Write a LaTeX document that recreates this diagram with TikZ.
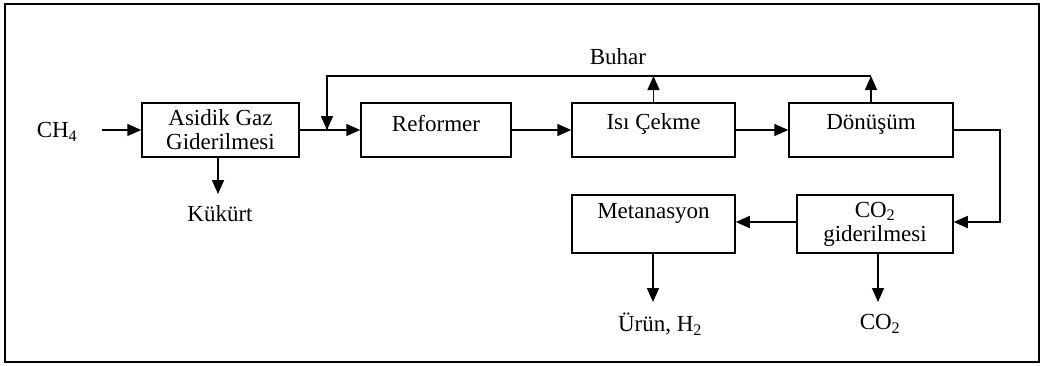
\documentclass[tikz,border=0pt]{standalone}
\usepackage{fontspec}
\setmainfont{Liberation Serif}
\usetikzlibrary{arrows.meta}
\begin{document}
\begin{tikzpicture}[x=1pt,y=-1pt,
  box/.style={draw,line width=1.5pt,inner sep=0pt},
  lbl/.style={font=\fontsize{23}{24}\selectfont,inner sep=0pt},
  flow/.style={line width=1.5pt,-{Triangle[length=14pt,width=12pt]}},
  line/.style={line width=1.5pt}]
\useasboundingbox (0,0) rectangle (1044,365);
\draw[line width=2.2pt] (5,4) rectangle (1039,362);
% boxes
\node[box,minimum width=157pt,minimum height=54pt] (agg) at (220.5,130) {};
\node[lbl,align=center] at (220.5,130) {Asidik Gaz\\Giderilmesi};
\node[box,minimum width=150pt,minimum height=54pt] (ref) at (436,130) {};
\node[lbl] at (436,124) {Reformer};
\node[box,minimum width=163pt,minimum height=54pt] (isi) at (653.5,130) {};
\node[lbl] at (653.5,124) {Isı Çekme};
\node[box,minimum width=164pt,minimum height=54pt] (don) at (871,130) {};
\node[lbl] at (871,124) {Dönüşüm};
\node[box,minimum width=163pt,minimum height=58pt] (met) at (653.5,224) {};
\node[lbl] at (653.5,213) {Metanasyon};
\node[box,minimum width=156pt,minimum height=58pt] (cog) at (875,224) {};
\node[lbl,align=center] at (875,224) {CO\textsubscript{2}\\giderilmesi};
% labels
\node[lbl] (ch4) at (57,132) {CH\textsubscript{4}};
\node[lbl] (buhar) at (618,57) {Buhar};
\node[lbl] (kuk) at (220,214) {Kükürt};
\node[lbl] (urun) at (660,324) {Ürün, H\textsubscript{2}};
\node[lbl] (co2) at (880,324) {CO\textsubscript{2}};
% coordinates
\coordinate (ch4s) at (102,130);
\coordinate (fb) at (327,130);
\coordinate (fbt) at (327,76);
\coordinate (tr) at (871,76);
\coordinate (isit) at (653.5,76);
\coordinate (rc) at (1000,130);
\coordinate (rb) at (1000,222);
\coordinate (kukt) at (218,194);
\coordinate (urunt) at (653,302);
\coordinate (co2t) at (878,302);
% connectors
\draw[flow] (ch4s) -- (agg.west);
\draw[flow] (agg.east) -- (ref.west);
\draw[line] (fb) -- (fbt) -- (tr);
\draw[flow] (fbt) -- (fb);
\draw[flow] (ref.east) -- (isi.west);
\draw[flow] (isi.east) -- (don.west);
\draw[flow] (isi.north) -- (isit);
\draw[flow] (don.north) -- (tr);
\draw[flow] (agg.south -| kukt) -- (kukt);
\draw[flow] (don.east) -- (rc) -- (rb) -- (cog.east |- rb);
\draw[flow] (cog.west |- rb) -- (met.east |- rb);
\draw[flow] (met.south -| urunt) -- (urunt);
\draw[flow] (cog.south -| co2t) -- (co2t);
\end{tikzpicture}
\end{document}
